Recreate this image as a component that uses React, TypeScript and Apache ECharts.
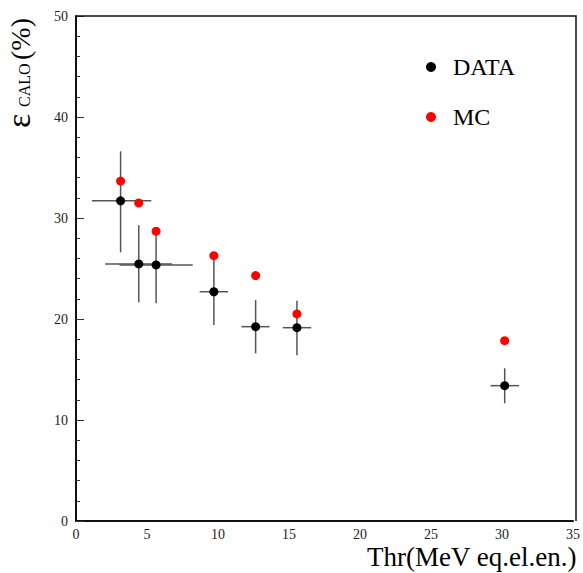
import React, { useEffect, useRef } from "react";
import * as echarts from "echarts";

// Threshold values (MeV eq. el. en.) and efficiencies (%)
const dataX = [3.14, 4.42, 5.64, 9.71, 12.65, 15.56, 30.19];
const dataY = [31.7, 25.45, 25.35, 22.7, 19.24, 19.14, 13.4];
const dataXLow = [1.12, 2.05, 3.07, 8.71, 11.65, 14.56, 29.19];
const dataXHigh = [5.3, 6.76, 8.22, 10.71, 13.63, 16.56, 31.21];
const dataYLow = [26.6, 21.65, 21.55, 19.4, 16.6, 16.4, 11.65];
const dataYHigh = [36.6, 29.27, 28.6, 25.9, 21.88, 21.8, 15.12];

const mcX = [3.14, 4.42, 5.64, 9.71, 12.65, 15.56, 30.19];
const mcY = [33.66, 31.49, 28.7, 26.27, 24.3, 20.5, 17.85];

const xTicks = [0, 5, 10, 15, 20, 25, 30, 35];
const yTicks = [0, 10, 20, 30, 40, 50];

const FONT = "Liberation Serif";

export default function App() {
  const ref = useRef<HTMLDivElement>(null);

  useEffect(() => {
    if (!ref.current) return;
    const chart = echarts.init(ref.current, undefined, { renderer: "svg" });

    const errData = dataX.map((x, i) => [
      x,
      dataY[i],
      dataXLow[i],
      dataXHigh[i],
      dataYLow[i],
      dataYHigh[i],
    ]);

    const lineStyle = { stroke: "#555", lineWidth: 1.5 };

    chart.setOption({
      animation: false,
      backgroundColor: "#fff",
      textStyle: { fontFamily: FONT },
      grid: { left: 76, right: 7, top: 16, bottom: 52, containLabel: false },
      xAxis: {
        type: "value",
        min: xTicks[0],
        max: xTicks[xTicks.length - 1],
        interval: 5,
        axisLine: { show: true, onZero: false, lineStyle: { color: "#111", width: 2 } },
        axisTick: { show: false },
        splitLine: { show: false },
        axisLabel: { color: "#222", fontFamily: FONT, fontSize: 14, margin: 6 },
      },
      yAxis: {
        type: "value",
        min: yTicks[0],
        max: yTicks[yTicks.length - 1],
        interval: 10,
        axisLine: { show: true, onZero: false, lineStyle: { color: "#111", width: 2 } },
        axisTick: { show: true, inside: true, length: 8, lineStyle: { color: "#333", width: 1 } },
        minorTick: { show: true, splitNumber: 5, length: 4, lineStyle: { color: "#333", width: 1 } },
        splitLine: { show: false },
        axisLabel: { color: "#222", fontFamily: FONT, fontSize: 14, margin: 8 },
      },
      legend: {
        orient: "vertical",
        left: 421,
        top: 50,
        itemWidth: 10,
        itemHeight: 10,
        itemGap: 26,
        icon: "circle",
        textStyle: { fontFamily: FONT, fontSize: 24, color: "#000", padding: [0, 0, 0, 12] },
        data: ["DATA", "MC"],
      },
      graphic: [
        // Top and right edges of the plot frame
        {
          type: "polyline",
          silent: true,
          shape: { points: [[76, 16], [576, 16], [576, 521]] },
          style: { stroke: "#111", lineWidth: 1.5, fill: "none" },
          z: 10,
        },
        // Y axis title: epsilon with CALO subscript, then (%)
        {
          type: "group",
          x: 0,
          y: 128,
          rotation: Math.PI / 2,
          children: [
            { type: "text", x: 0, y: 35, style: { text: "ε", fontSize: 34, fontFamily: FONT, fill: "#000", verticalAlign: "bottom" } },
            { type: "text", x: 21, y: 32, style: { text: "CALO", fontSize: 16, fontFamily: FONT, fill: "#000", verticalAlign: "bottom" } },
            { type: "text", x: 68, y: 34, style: { text: "(%)", fontSize: 28, fontFamily: FONT, fill: "#000", verticalAlign: "bottom" } },
          ],
        },
        // X axis title
        {
          type: "text",
          right: 6,
          top: 543,
          style: { text: "Thr(MeV eq.el.en.)", fontSize: 27, fontFamily: FONT, fill: "#000" },
        },
      ],
      series: [
        {
          name: "errors",
          type: "custom",
          z: 1,
          silent: true,
          data: errData,
          renderItem: (params: any, api: any) => {
            const x = api.value(0);
            const y = api.value(1);
            const pL = api.coord([api.value(2), y]);
            const pR = api.coord([api.value(3), y]);
            const pB = api.coord([x, api.value(4)]);
            const pT = api.coord([x, api.value(5)]);
            return {
              type: "group",
              children: [
                { type: "line", shape: { x1: pL[0], y1: pL[1], x2: pR[0], y2: pR[1] }, style: lineStyle },
                { type: "line", shape: { x1: pB[0], y1: pB[1], x2: pT[0], y2: pT[1] }, style: lineStyle },
              ],
            };
          },
        },
        {
          name: "DATA",
          type: "scatter",
          z: 3,
          symbolSize: 9,
          itemStyle: { color: "#000", opacity: 1 },
          data: dataX.map((x, i) => [x, dataY[i]]),
        },
        {
          name: "MC",
          type: "scatter",
          z: 3,
          symbolSize: 9,
          itemStyle: { color: "#ff0000", opacity: 1 },
          data: mcX.map((x, i) => [x, mcY[i]]),
        },
      ],
    });

    return () => chart.dispose();
  }, []);

  return <div ref={ref} style={{ width: 583, height: 573, position: "absolute", left: 0, top: 0 }} />;
}
